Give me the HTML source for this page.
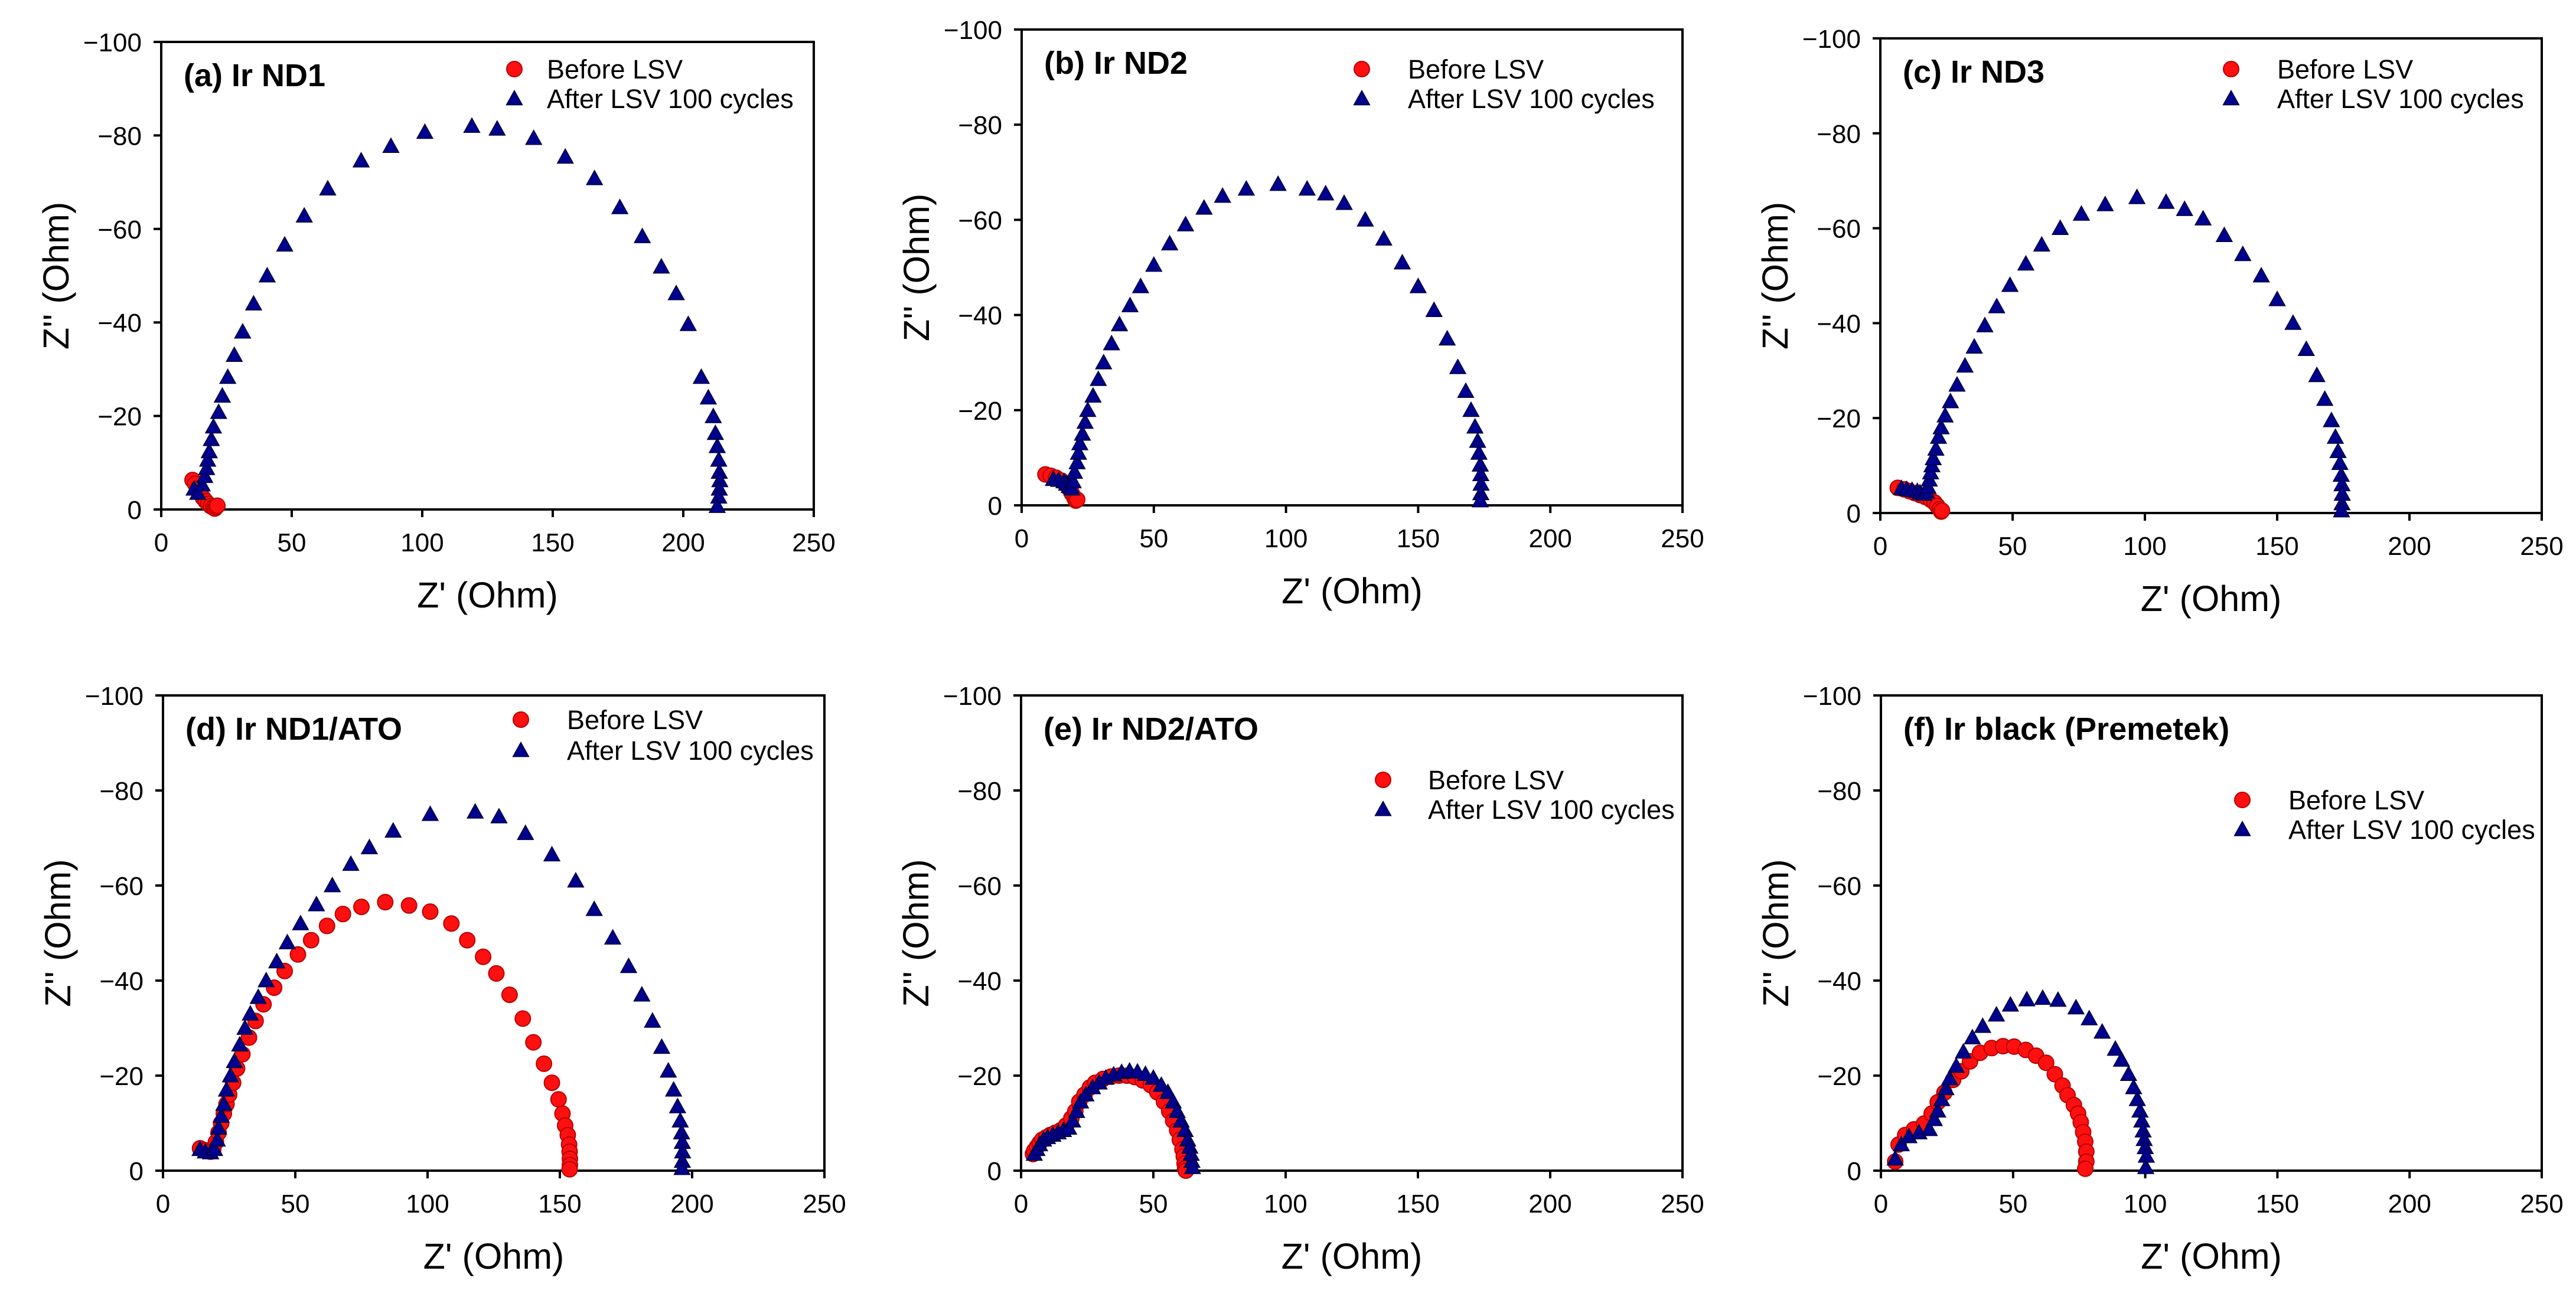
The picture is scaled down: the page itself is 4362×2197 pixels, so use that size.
<!DOCTYPE html>
<html><head><meta charset="utf-8"><style>
html,body{margin:0;padding:0;background:#fff;}
svg{display:block;}
text{font-family:"Liberation Sans",Arial,sans-serif;fill:#000;}
</style></head><body>
<svg id="fig" xmlns="http://www.w3.org/2000/svg" width="4362" height="2197" viewBox="0 0 4362 2197"></svg>
<script>
const xTicks = [0, 50, 100, 150, 200, 250];
const yTicks = [0, 20, 40, 60, 80, 100];
const xTickLabels = ["0", "50", "100", "150", "200", "250"];
const yTickLabels = ["0", "\u221220", "\u221240", "\u221260", "\u221280", "\u2212100"];
const panelTitles = ["(a) Ir ND1", "(b) Ir ND2", "(c) Ir ND3", "(d) Ir ND1/ATO", "(e) Ir ND2/ATO", "(f) Ir black (Premetek)"];
const seriesNames = ["Before LSV", "After LSV 100 cycles"];

// data: [Z', -Z''] pairs
const aBefore = [[12,6.3],[13,5.5],[14,4.5],[15,3.5],[16,2.5],[17,1.8],[18,1.2],[19,0.7],[20,0.4],[20.5,0.2],[21,0.5],[21.5,0.8]];
const aAfter = [[12.6,4.4],[14,3.5],[15.7,5.3],[16.7,7.1],[17.4,8.8],[17.8,10.6],[18.4,12.4],[19.2,15],[20,17.7],[22,20.8],[23.4,24.3],[25.5,28.3],[28,33],[31.2,38],[35.4,44],[40.6,50],[47.3,56.6],[54.8,62.8],[63.8,68.6],[76.6,74.6],[88,77.7],[101,80.7],[119,82],[128.7,81.4],[142.7,79.4],[154.8,75.4],[166,70.8],[175.7,64.6],[184.3,58.4],[191.6,51.9],[197.3,46.2],[201.9,39.6],[206.9,28.3],[209.6,23.9],[211.5,19.9],[212.3,16.3],[213,13.5],[213.6,10.6],[213.8,8],[214,6.2],[213.8,4.4],[213.6,2.7],[213,0.7]];
const bBefore = [[9,6.5],[11,6.2],[13,5.8],[15,5.2],[16.5,4.5],[18,3.5],[19,2.5],[20,1.5],[20.5,1],[21,1.2]];
const bAfter = [[12,5.5],[14,5.3],[16,5],[17,4.5],[18,4],[19,3.5],[19.5,5],[20,7],[21,9],[21.5,11],[22,13],[23,15],[24,17.5],[25,20],[27,23],[29,26.5],[31,30],[34,34],[37,38],[41,42],[45,46],[50,50.5],[56,55],[62,59],[69,62.5],[76,65],[85,66.5],[97,67.5],[108,66.5],[115,65.5],[122,63.5],[130,60],[137,56],[144,51],[150,46],[156,41],[161,35],[165,29],[168,24],[170,20],[171.5,16.5],[172.5,13.5],[173,11],[173.5,8.5],[173.7,6.5],[173.8,4.5],[173.7,2.5],[173.5,1]];
const cBefore = [[6.6,5.3],[9,5],[11,4.6],[13,4.2],[15,3.8],[17,3.4],[19,2.8],[20.5,2.2],[21.5,1.5],[22.5,0.8],[23,0.3],[23.3,0.5]];
const cAfter = [[8,5.2],[10,5],[12,4.8],[14,4.6],[15,4.3],[16.5,4],[17.5,4.5],[18,5.5],[18.5,7],[19,8.5],[19.5,10],[20,11.5],[21,13.5],[22,16],[23,18],[24.5,20.5],[26.5,23.5],[29,27],[32,31],[35.5,35],[39.5,39.5],[44,43.5],[49,48],[55,52.5],[61,56.5],[68,60],[76,63],[85,65],[97,66.5],[108,65.5],[115,64],[122,62],[130,58.5],[137,54.5],[144,50],[150,45],[156,40],[161,34.5],[165,29],[168,24],[170.5,19.5],[172,16],[173,13],[173.7,10.5],[174.2,8],[174.5,6],[174.6,4],[174.5,2],[174.3,0.5]];
const dBefore = [[14,4.7],[16,4.3],[18,4],[19,4.5],[20,6],[21,8],[22,10],[23,12],[24,14],[25,16],[26.5,18.5],[28,21.5],[30,24.5],[32.5,28],[35,31.5],[38,35],[42,38.5],[46,42],[51,45.5],[56,48.5],[62,51.5],[68,54],[75,55.5],[84,56.5],[93,55.8],[101,54.5],[109,52],[115,48.5],[121,45],[126,41.5],[131,37],[136,32],[140,27],[144,22.5],[147,18.5],[149.5,15],[151,12],[152,9.5],[153,7.5],[153.5,5.5],[153.7,4],[153.8,2.5],[153.8,1.2],[153.7,0.3]];
const dAfter = [[14,4.5],[16,4],[18,3.8],[19.5,4.5],[20.5,6.5],[21,9],[22,11.5],[23,14],[24,17],[25.5,20],[27,23],[29,26.5],[31,30],[33,33],[36,36.5],[39,40],[43,44],[47,48],[52,52],[58,56],[64,60],[71,64.5],[78,68],[87,71.5],[101,75],[118,75.5],[127,74.5],[137,71],[147,66.5],[156,61],[163,55],[170,49],[176,43],[181,37],[185,31.5],[188.5,26],[191,21],[193,17],[194.5,13.5],[195.5,10.5],[196,8],[196.3,6],[196.4,4],[196.3,2],[196.2,0.5]];
const eBefore = [[4.5,3.5],[5,4.2],[6,5],[7,5.8],[8,6.5],[9.5,7],[11,7.5],[13,8],[15,8.5],[17,9.5],[19,11],[20.5,12.5],[22,14.5],[24,16],[26,17.5],[28,18.5],[31,19.3],[34,19.8],[37,20],[40,20],[43,19.7],[46,19],[49,18],[51.5,16.5],[54,14.5],[56,12.5],[57.5,10.5],[59,8.5],[60,6.5],[61,4.5],[61.5,3],[61.8,1.5],[62,0.5],[62.3,0]];
const eAfter = [[5,3.5],[6,4.5],[7,5.5],[8.5,6.5],[10,7],[12,7.5],[14,8],[16,8.5],[18,9],[19.5,10.5],[21,12.5],[22.5,14.5],[24.5,16],[27,17.5],[29.5,18.5],[32,19.5],[35,20.2],[38,20.7],[41,21],[44,20.8],[47,20.3],[50,19.5],[53,18],[55.5,16.5],[57.5,14.5],[59,12.5],[60.5,10.5],[62,8.5],[63,6.5],[63.8,5],[64.3,3.5],[64.6,2],[64.8,0.7]];
const fBefore = [[5.4,1.9],[6.7,5.5],[9.2,7.5],[12.5,8.7],[16.3,9.9],[19.2,12],[21.5,14.4],[24,16.4],[27.3,19.1],[30.4,20.9],[33.7,23],[37.5,24.8],[41.9,25.8],[46.2,26.2],[50.4,26.1],[54.8,25.4],[58.7,24.2],[62.5,22.7],[65.8,20.3],[68.7,17.9],[70.6,15.9],[73,13.8],[74.6,12],[75.6,10.2],[76.5,8.1],[77.3,6.1],[77.7,4],[77.7,1.9],[77.3,0.4]];
const fAfter = [[5.4,2.5],[7.7,5.5],[10.6,7.2],[14.4,8],[18.3,8.7],[20.2,10.8],[21.5,12.6],[23,15],[24.6,17.3],[26,19.4],[28.5,22],[31.2,25],[34.6,28],[38.5,30.4],[43.7,32.8],[49,34.9],[55.2,36],[61.2,36.3],[67,35.9],[73.8,34.3],[78.8,32],[83.7,29.2],[88.7,25.6],[91,23.3],[93.7,20.3],[95.6,17.5],[97,15],[98,12.6],[98.7,10.5],[99.2,8.4],[99.6,6.6],[100,4.9],[100.4,3.1],[100.2,0.7]];
const beforeSets = [aBefore, bBefore, cBefore, dBefore, eBefore, fBefore];
const afterSets = [aAfter, bAfter, cAfter, dAfter, eAfter, fAfter];

// layout (not data)
const frames = [
  {L:273,R:1378,T:71,B:863, lg:[598,653,46,96]},
  {L:1730,R:2849,T:50,B:856, lg:[576,654,67,117]},
  {L:3184,R:4304,T:65,B:869, lg:[594,672,52,102]},
  {L:276,R:1396,T:1178,B:1983, lg:[606,684,41,93]},
  {L:1729,R:2849,T:1178,B:1983, lg:[613,689,143,193]},
  {L:3185,R:4304,T:1178,B:1983, lg:[612,690,177,227]}
];
const NS = "http://www.w3.org/2000/svg";
const svg = document.getElementById('fig');
function mk(tag, attrs, parent){
  const e = document.createElementNS(NS, tag);
  for (const k in attrs) e.setAttribute(k, attrs[k]);
  (parent||svg).appendChild(e);
  return e;
}
function circ(g, x, y){
  return mk('circle', {cx:x, cy:y, r:13, fill:'#ff1010', stroke:'#b80000', 'stroke-width':2}, g);
}
function tri(g, x, y){
  const s = 13;
  return mk('polygon', {points:`${x},${y-s} ${x-s},${y+s*0.8} ${x+s},${y+s*0.8}`, fill:'#000090', stroke:'#00004a', 'stroke-width':2}, g);
}
frames.forEach((f, i) => {
  const g = mk('g', {});
  
  
  const sx = v => f.L + (v - 0) / 250 * (f.R - f.L);
  const sy = v => f.B - (v - 0) / 100 * (f.B - f.T);
  const fr = mk('rect', {x:f.L, y:f.T, width:f.R-f.L, height:f.B-f.T, fill:'none', stroke:'#000', 'stroke-width':4}, g);
  
  
  xTicks.forEach((t, k) => {
    const x = sx(t);
    mk('line', {x1:x, x2:x, y1:f.B, y2:f.B+13, stroke:'#000', 'stroke-width':4}, g);
    const tx = mk('text', {x:x, y:f.B+71, 'font-size':44, 'text-anchor':'middle'}, g);
    tx.textContent = xTickLabels[k];
    
    
  });
  yTicks.forEach((t, k) => {
    const y = sy(t);
    mk('line', {x1:f.L-13, x2:f.L, y1:y, y2:y, stroke:'#000', 'stroke-width':4}, g);
    const tx = mk('text', {x:f.L-33, y:y+16, 'font-size':44, 'text-anchor':'end'}, g);
    tx.textContent = yTickLabels[k];
    
    
  });
  const xt = mk('text', {x:(f.L+f.R)/2, y:f.B+166, 'font-size':61, 'text-anchor':'middle'}, g);
  xt.textContent = "Z' (Ohm)";
  
  
  const yc = f.L - 178, ym = (f.T + f.B) / 2;
  const yt = mk('text', {x:yc, y:ym, 'font-size':61, 'text-anchor':'middle', transform:`rotate(-90 ${yc} ${ym}) translate(0 21)`}, g);
  yt.textContent = "Z'' (Ohm)";
  
  
  const pt = mk('text', {x:f.L+38, y:f.T+75, 'font-size':54, 'font-weight':'bold'}, g);
  pt.textContent = panelTitles[i];
  
  
  const gb = mk('g', {}, g);
  
  
  beforeSets[i].forEach(d => {
    const m = circ(gb, sx(d[0]), sy(d[1]));
    
    
  });
  const ga = mk('g', {}, g);
  
  
  afterSets[i].forEach(d => {
    const m = tri(ga, sx(d[0]), sy(d[1]));
    
    
  });
  const lg = mk('g', {}, g);
  
  
  const mx = f.L + f.lg[0], tx0 = f.L + f.lg[1];
  circ(lg, mx, f.T + f.lg[2]);
  tri(lg, mx, f.T + f.lg[3]);
  const l1 = mk('text', {x:tx0, y:f.T+f.lg[2]+16, 'font-size':45}, lg);
  l1.textContent = seriesNames[0];
  
  
  const l2 = mk('text', {x:tx0, y:f.T+f.lg[3]+16, 'font-size':45}, lg);
  l2.textContent = seriesNames[1];
  
  
});
</script>
</body></html>
